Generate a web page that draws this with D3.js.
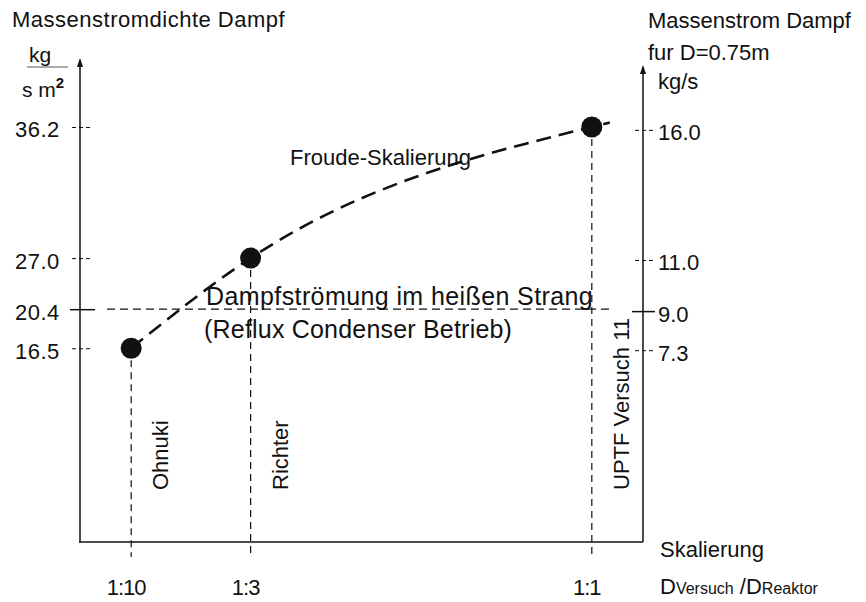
<!DOCTYPE html>
<html>
<head>
<meta charset="utf-8">
<script src="https://cdn.jsdelivr.net/npm/d3@7"></script>
<style>
  body { margin: 0; background: #fff; }
  svg { display: block; font-family: "Liberation Sans", Arial, sans-serif; }
  text { fill: #111; }
</style>
</head>
<body>
<svg id="chart" width="866" height="602"></svg>
<script>
// Data
const studies = ["Ohnuki", "Richter", "UPTF Versuch 11"];
const scaleRatio = [0.1, 1 / 3, 1];          // D_Versuch / D_Reaktor
const scaleLabels = ["1:10", "1:3", "1:1"];
const massFlux = [16.5, 27.0, 36.2];         // kg/(s m2)
const massFlow = [7.3, 11.0, 16.0];          // kg/s for D = 0.75 m
const refluxFlux = 20.4;
const refluxFlow = 9.0;
const leftTicks = [16.5, 20.4, 27.0, 36.2];
const rightTicks = [7.3, 9.0, 11.0, 16.0];

//==========================================
// Layout and scales
//==========================================
const plot = { left: 80, right: 643, top: 60, bottom: 542 };
const plotH = plot.bottom - plot.top;

// the value axes are schematic, so tick values sit at fixed fractions of the height
const leftStops = [0.402, 0.483, 0.589, 0.861];
const rightStops = [0.398, 0.479, 0.585, 0.855];

const x = d3.scaleLinear().domain([0, 1.1]).range([plot.left, plot.right]);
const y = d3.scaleLinear().domain(leftTicks).range(leftStops.map(f => plot.bottom - f * plotH));
const yR = d3.scaleLinear().domain(rightTicks).range(rightStops.map(f => plot.bottom - f * plotH));

const svg = d3.select("#chart");
const ink = "#111";

//==========================================
// Axes
//==========================================
// left axis line with arrow
svg.append("line")
  .attr("x1", plot.left).attr("x2", plot.left)
  .attr("y1", plot.top).attr("y2", plot.bottom)
  .attr("stroke", ink).attr("stroke-width", 1.5);
svg.append("path")
  .attr("d", `M${plot.left},${plot.top - 2} l-3,9 l6,0 z`)
  .attr("fill", ink);

// right axis line with arrow
svg.append("line")
  .attr("x1", plot.right).attr("x2", plot.right)
  .attr("y1", plot.top + 7).attr("y2", plot.bottom)
  .attr("stroke", ink).attr("stroke-width", 1.5);
svg.append("path")
  .attr("d", `M${plot.right},${plot.top + 5} l-3,9 l6,0 z`)
  .attr("fill", ink);

// bottom axis line
svg.append("line")
  .attr("x1", plot.left - 1).attr("x2", plot.right)
  .attr("y1", plot.bottom).attr("y2", plot.bottom)
  .attr("stroke", ink).attr("stroke-width", 1.5);

// left ticks and labels
const leftAxis = svg.append("g")
  .attr("transform", `translate(${plot.left},0)`)
  .call(d3.axisLeft(y).tickValues(leftTicks).tickFormat(d3.format(".1f")).tickSize(0));
leftAxis.select(".domain").remove();
leftAxis.selectAll(".tick text")
  .attr("x", 15 - plot.left)
  .attr("dy", "0.45em")
  .attr("text-anchor", "start")
  .attr("font-size", 22)
  .attr("font-family", null)
  .attr("letter-spacing", 0.5)
  .attr("fill", ink);
leftAxis.selectAll(".tick")
  .append("line")
  .attr("x1", d => d === refluxFlux ? -10 : -8)
  .attr("x2", d => d === refluxFlux ? 15 : 10)
  .attr("stroke", ink)
  .attr("stroke-width", d => d === refluxFlux ? 1.5 : 1)
  .attr("stroke-dasharray", d => d === refluxFlux ? null : "4,3");

// right ticks and labels
const rightAxis = svg.append("g")
  .attr("transform", `translate(${plot.right},0)`)
  .call(d3.axisRight(yR).tickValues(rightTicks).tickFormat(d3.format(".1f")).tickSize(0));
rightAxis.select(".domain").remove();
rightAxis.selectAll(".tick text")
  .attr("x", 15)
  .attr("dy", "0.45em")
  .attr("font-size", 22)
  .attr("font-family", null)
  .attr("fill", ink);
rightAxis.selectAll(".tick")
  .append("line")
  .attr("x1", d => d === refluxFlow ? -11 : -8)
  .attr("x2", d => d === refluxFlow ? 12 : 12)
  .attr("stroke", ink)
  .attr("stroke-width", d => d === refluxFlow ? 1.5 : 1)
  .attr("stroke-dasharray", d => d === refluxFlow ? null : "4,3");

// bottom labels
svg.append("g")
  .selectAll("text")
  .data(scaleLabels)
  .enter().append("text")
  .attr("x", (d, i) => x(scaleRatio[i]) - 5)
  .attr("y", plot.bottom + 53)
  .attr("text-anchor", "middle")
  .attr("font-size", 22)
  .attr("letter-spacing", -1)
  .text(d => d);

//==========================================
// Axis titles
//==========================================
svg.append("text")
  .attr("x", 12).attr("y", 27)
  .attr("font-size", 22).attr("letter-spacing", 0.5)
  .text("Massenstromdichte Dampf");

// unit kg / (s m^2)
svg.append("text")
  .attr("x", 29).attr("y", 62)
  .attr("font-size", 21)
  .text("kg");
svg.append("line")
  .attr("x1", 27).attr("x2", 68)
  .attr("y1", 67).attr("y2", 67)
  .attr("stroke", "#555").attr("stroke-width", 1);
const unitLeft = svg.append("text")
  .attr("x", 22).attr("y", 97)
  .attr("font-size", 21);
unitLeft.append("tspan").text("s m");
unitLeft.append("tspan").attr("dy", -9).attr("font-size", 15).attr("font-weight", "bold").text("2");

svg.append("text")
  .attr("x", 648).attr("y", 28)
  .attr("font-size", 22)
  .text("Massenstrom Dampf");
svg.append("text")
  .attr("x", 648).attr("y", 60)
  .attr("font-size", 22)
  .text("fur D=0.75m");
svg.append("text")
  .attr("x", 658).attr("y", 89)
  .attr("font-size", 22)
  .text("kg/s");

svg.append("text")
  .attr("x", 660).attr("y", 557)
  .attr("font-size", 22)
  .text("Skalierung");

const ratioTitle = svg.append("text")
  .attr("x", 660).attr("y", 594)
  .attr("font-size", 22);
ratioTitle.append("tspan").text("D");
ratioTitle.append("tspan").attr("font-size", 16).text("Versuch");
ratioTitle.append("tspan").text(" /D");
ratioTitle.append("tspan").attr("font-size", 16).text("Reaktor");

//==========================================
// Reference line: reflux condenser mode
//==========================================
svg.append("line")
  .attr("x1", plot.left + 27).attr("x2", plot.right - 30)
  .attr("y1", y(refluxFlux)).attr("y2", y(refluxFlux))
  .attr("stroke", ink).attr("stroke-width", 1.2)
  .attr("stroke-dasharray", "8,5");

svg.append("text")
  .attr("x", 206).attr("y", y(refluxFlux) - 4)
  .attr("font-size", 25).attr("letter-spacing", 0.4)
  .text("Dampfströmung im heißen Strang");
svg.append("text")
  .attr("x", 204).attr("y", y(refluxFlux) + 29)
  .attr("font-size", 25).attr("letter-spacing", 0.2)
  .text("(Reflux Condenser Betrieb)");

//==========================================
// Experiments: drop lines, labels, Froude curve, points
//==========================================
const points = studies.map((name, i) => ({
  name, ratio: scaleRatio[i], flux: massFlux[i], flow: massFlow[i], label: scaleLabels[i]
}));

svg.append("g")
  .selectAll("line")
  .data(points)
  .enter().append("line")
  .attr("x1", d => x(d.ratio)).attr("x2", d => x(d.ratio))
  .attr("y1", d => y(d.flux)).attr("y2", plot.bottom + 15)
  .attr("stroke", ink).attr("stroke-width", 1.2)
  .attr("stroke-dasharray", "7,5");

svg.append("g")
  .selectAll("text")
  .data(points)
  .enter().append("text")
  .attr("transform", d => `translate(${x(d.ratio) + 37},490) rotate(-90)`)
  .attr("font-size", 22)
  .text(d => d.name);

// Froude scaling curve through the three experiments
const curve = d3.line()
  .x(d => x(d.ratio))
  .y(d => y(d.flux))
  .curve(d3.curveMonotoneX);

const last = points[points.length - 1];
const endX = x(last.ratio), endY = y(last.flux);
svg.append("path")
  .attr("d", curve(points) + `L${endX + 18},${endY - 4.5}`)
  .attr("fill", "none")
  .attr("stroke", ink)
  .attr("stroke-width", 2.6)
  .attr("stroke-dasharray", "15,8");

svg.append("text")
  .attr("x", 290).attr("y", 165)
  .attr("font-size", 22)
  .text("Froude-Skalierung");

svg.append("g")
  .selectAll("circle")
  .data(points)
  .enter().append("circle")
  .attr("cx", d => x(d.ratio))
  .attr("cy", d => y(d.flux))
  .attr("r", 10.5)
  .attr("fill", ink);
</script>
</body>
</html>
